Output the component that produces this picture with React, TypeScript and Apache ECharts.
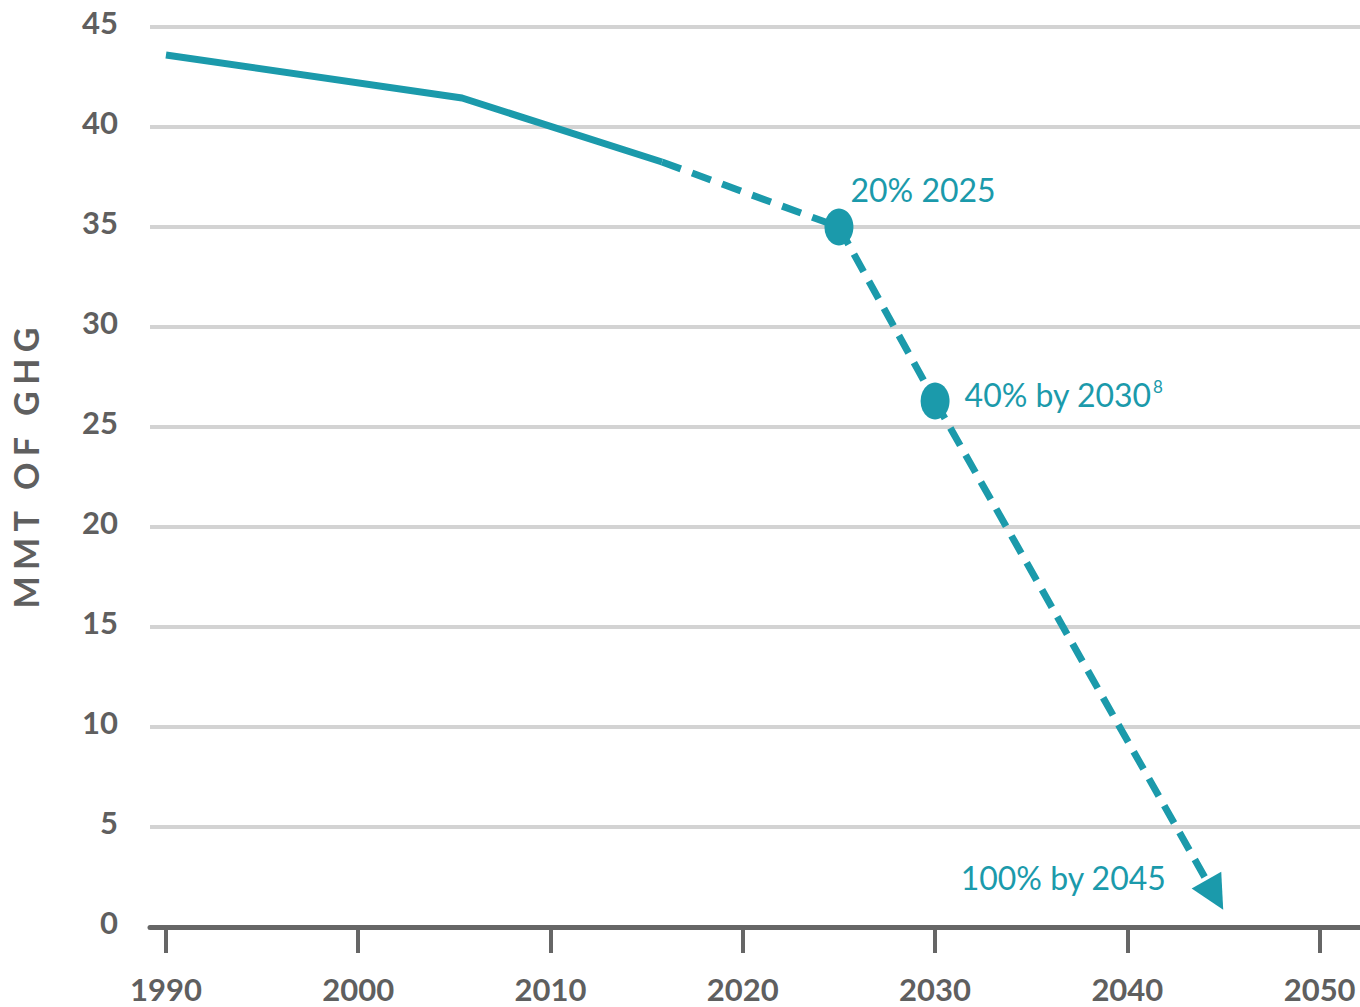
import React, { useEffect, useRef } from "react";
import * as echarts from "echarts";

// Emissions history (MMT of GHG)
const historyYears = [1990, 2005.4, 2015.8];
const historyValues = [43.6, 41.45, 38.25];

// Projected path to the 2025 milestone
const projectionYears = [2015.8, 2025];
const projectionValues = [38.25, 35];

// Milestones
const milestoneYears = [2025, 2030];
const milestoneValues = [35, 26.3];
const milestoneLabels = ["20% 2025", "40% by 2030{sup|8}"];

// Final reduction arrow toward zero
const arrowYears = [2030, 2044.55];
const arrowValues = [26.3, 1.6];
const arrowLabel = "100% by 2045";

const yearTicks = [1990, 2000, 2010, 2020, 2030, 2040, 2050];
const valueTicks = [0, 5, 10, 15, 20, 25, 30, 35, 40, 45];

const TEAL = "#1b9aab";
const GRAY = "#5f5f5f";
const FONT = "Lato";

// spaced-out axis title
const yTitle = "MMT OF GHG".split("").join("\u2009\u200A");

export default function App() {
  const ref = useRef<HTMLDivElement>(null);

  useEffect(() => {
    if (!ref.current) return;
    const chart = echarts.init(ref.current, undefined, { renderer: "svg" });

    const zip = (xs: number[], ys: number[]) => xs.map((x, i) => [x, ys[i]]);

    chart.setOption({
      animation: false,
      backgroundColor: "#ffffff",
      grid: { left: 150, right: 0, top: 27, bottom: 80 },
      xAxis: {
        type: "value",
        min: 1989.17,
        max: 2052.1,
        splitLine: { show: false },
        axisLine: { show: true, lineStyle: { color: "#666666", width: 5 } },
        axisTick: {
          show: true,
          customValues: yearTicks,
          length: 26,
          lineStyle: { color: "#666666", width: 4 },
        },
        axisLabel: {
          customValues: yearTicks,
          margin: 46,
          color: GRAY,
          fontFamily: FONT,
          fontWeight: "bold",
          fontSize: 31,
          formatter: (v: number) => String(v),
        },
      },
      yAxis: {
        type: "value",
        min: 0,
        max: 45,
        interval: 5,
        name: yTitle,
        nameLocation: "middle",
        nameGap: 108,
        nameRotate: 90,
        nameTextStyle: {
          color: GRAY,
          fontFamily: FONT,
          fontWeight: "bold",
          fontSize: 34,
          padding: [0, 0, 0, 18],
        },
        axisLine: { show: false },
        axisTick: { show: false },
        axisLabel: {
          margin: 32,
          color: GRAY,
          fontFamily: FONT,
          fontWeight: "bold",
          fontSize: 31,
          formatter: (v: number) =>
            valueTicks.includes(v) ? `{t|${v}}` : "",
          rich: {
            t: {
              color: GRAY,
              fontFamily: FONT,
              fontWeight: "bold",
              fontSize: 31,
              padding: [0, 0, 10, 0],
            },
          },
        },
        splitLine: { lineStyle: { color: "#d3d3d3", width: 4 } },
      },
      series: [
        {
          type: "line",
          data: zip(historyYears, historyValues),
          symbol: "none",
          lineStyle: { color: TEAL, width: 7 },
          z: 3,
        },
        {
          type: "line",
          data: zip(projectionYears, projectionValues),
          symbol: "none",
          lineStyle: { color: TEAL, width: 7, type: [20, 12] },
          z: 3,
        },
        {
          type: "line",
          data: zip(milestoneYears, milestoneValues),
          symbol: "none",
          lineStyle: { color: TEAL, width: 7, type: [20, 11] },
          z: 3,
        },
        {
          type: "lines",
          coordinateSystem: "cartesian2d",
          symbol: ["none", "triangle"],
          symbolSize: 34,
          lineStyle: { color: TEAL, width: 7, type: [20, 11], opacity: 1 },
          data: [{ coords: zip(arrowYears, arrowValues) }],
          z: 3,
        },
        {
          type: "scatter",
          data: zip(milestoneYears, milestoneValues).map((d, i) => ({
            value: d,
            label: {
              show: true,
              formatter: milestoneLabels[i],
              position: "right",
              distance: i === 0 ? 0 : 15,
              offset: i === 0 ? [-3, -38] : [0, -7],
            },
          })),
          symbol: "circle",
          symbolSize: [29, 37],
          itemStyle: { color: TEAL, opacity: 1 },
          label: {
            color: TEAL,
            opacity: 1,
            fontFamily: FONT,
            fontSize: 32,
            rich: {
              sup: {
                fontSize: 17,
                fontFamily: FONT,
                color: TEAL,
                verticalAlign: "top",
                padding: [0, 0, 14, 1],
              },
            },
          },
          z: 5,
        },
        {
          type: "scatter",
          data: [[arrowYears[1], arrowValues[1]]],
          symbolSize: 0,
          itemStyle: { color: "transparent" },
          label: {
            show: true,
            formatter: arrowLabel,
            position: "left",
            distance: 49,
            offset: [0, -18],
            color: TEAL,
            opacity: 1,
            fontFamily: FONT,
            fontSize: 32,
          },
          z: 4,
        },
      ],
    });

    return () => chart.dispose();
  }, []);

  return (
    <div
      ref={ref}
      style={{ position: "fixed", left: 0, top: 0, width: 1360, height: 1007 }}
    />
  );
}
